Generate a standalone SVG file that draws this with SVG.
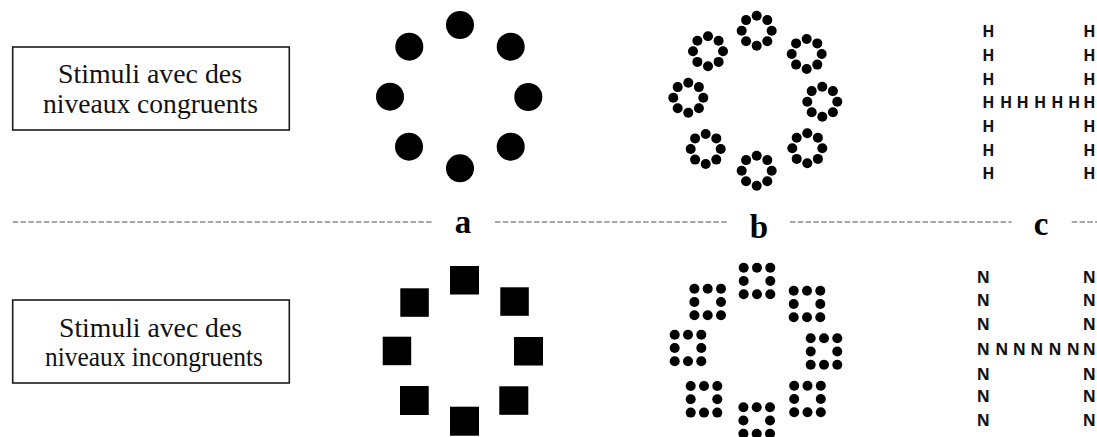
<svg xmlns="http://www.w3.org/2000/svg" xmlns:xlink="http://www.w3.org/1999/xlink" width="1097" height="437" viewBox="0 0 1097 437">
<style>
.box{fill:#fff;stroke:#1a1a1a;stroke-width:1.6}
.lbl{font-family:"Liberation Serif","Times New Roman",serif;font-size:28px;fill:#111}
.sep{stroke:#8a8a8a;stroke-width:1.4;stroke-dasharray:5.5 2.3;fill:none}
.tag{font-family:"Liberation Serif","Times New Roman",serif;font-weight:bold;font-size:33px;fill:#000;text-anchor:middle}
.let{font-family:"Open Sans","Liberation Sans",sans-serif;font-weight:bold;font-size:16px;fill:#111;text-anchor:middle}
.blk{fill:#000}
</style>
<defs>
<g id="ringc" class="blk">
<circle cx="0" cy="-15" r="5"/><circle cx="10.6" cy="-10.6" r="5"/><circle cx="15" cy="0" r="5"/><circle cx="10.6" cy="10.6" r="5"/>
<circle cx="0" cy="15" r="5"/><circle cx="-10.6" cy="10.6" r="5"/><circle cx="-15" cy="0" r="5"/><circle cx="-10.6" cy="-10.6" r="5"/>
</g>
<g id="sqc" class="blk">
<circle cx="-13.3" cy="-13.3" r="5"/><circle cx="0" cy="-13.3" r="5"/><circle cx="13.3" cy="-13.3" r="5"/>
<circle cx="-13.3" cy="0" r="5"/><circle cx="13.3" cy="0" r="5"/>
<circle cx="-13.3" cy="13.3" r="5"/><circle cx="0" cy="13.3" r="5"/><circle cx="13.3" cy="13.3" r="5"/>
</g>
</defs>
<rect width="1097" height="437" fill="#fff"/>

<g id="label-congruent">
<rect class="box" x="12.7" y="47" width="276.6" height="83"/>
<text class="lbl" x="58" y="83" textLength="184" lengthAdjust="spacingAndGlyphs">Stimuli avec des</text>
<text class="lbl" x="43" y="113" textLength="215" lengthAdjust="spacingAndGlyphs">niveaux congruents</text>
</g>

<g id="label-incongruent">
<rect class="box" x="12.7" y="300" width="276.6" height="83"/>
<text class="lbl" x="59" y="337" textLength="183" lengthAdjust="spacingAndGlyphs">Stimuli avec des</text>
<text class="lbl" x="45" y="366" textLength="218" lengthAdjust="spacingAndGlyphs">niveaux incongruents</text>
</g>

<g id="connectors">
<line class="sep" x1="12.7" y1="222" x2="433.5" y2="222"/>
<line class="sep" x1="495" y1="222" x2="728.5" y2="222"/>
<line class="sep" x1="790" y1="222" x2="1011.7" y2="222"/>
<line class="sep" x1="1071.7" y1="222" x2="1097" y2="222"/>
</g>

<g id="tag-a"><text class="tag" x="463" y="233">a</text></g>
<g id="tag-b"><text class="tag" x="759" y="238">b</text></g>
<g id="tag-c"><text class="tag" x="1041" y="235">c</text></g>

<g id="stim-a-congruent" class="blk">
<circle cx="460" cy="25" r="14"/><circle cx="409.3" cy="46.7" r="14"/><circle cx="510.7" cy="46.7" r="14"/>
<circle cx="390" cy="96.7" r="14"/><circle cx="528.3" cy="97" r="14"/>
<circle cx="409" cy="146.7" r="14"/><circle cx="510.7" cy="146.7" r="14"/><circle cx="460" cy="168.3" r="14"/>
</g>

<g id="stim-a-incongruent" class="blk">
<rect x="450" y="266" width="29" height="28.5"/><rect x="400.3" y="288.3" width="28.5" height="28.5"/><rect x="500.3" y="287.3" width="28.5" height="28.5"/>
<rect x="382.7" y="336.7" width="28.5" height="28.5"/><rect x="514" y="337" width="29" height="28.5"/>
<rect x="400" y="386" width="28.7" height="29"/><rect x="499.3" y="386.3" width="29" height="28.5"/><rect x="450" y="406.7" width="29" height="29"/>
</g>

<g id="stim-b-congruent">
<use xlink:href="#ringc" href="#ringc" x="756.7" y="30.7"/>
<use xlink:href="#ringc" href="#ringc" x="708" y="51.3"/>
<use xlink:href="#ringc" href="#ringc" x="806.7" y="54"/>
<use xlink:href="#ringc" href="#ringc" x="688.3" y="97.7"/>
<use xlink:href="#ringc" href="#ringc" x="822.3" y="101.7"/>
<use xlink:href="#ringc" href="#ringc" x="705.7" y="149"/>
<use xlink:href="#ringc" href="#ringc" x="807.3" y="148.3"/>
<use xlink:href="#ringc" href="#ringc" x="756.7" y="170.7"/>
</g>

<g id="stim-b-incongruent">
<use xlink:href="#sqc" href="#sqc" x="757" y="281"/>
<use xlink:href="#sqc" href="#sqc" x="707.7" y="302"/>
<use xlink:href="#sqc" href="#sqc" x="807" y="304"/>
<use xlink:href="#sqc" href="#sqc" x="688" y="348"/>
<use xlink:href="#sqc" href="#sqc" x="824" y="351.5"/>
<use xlink:href="#sqc" href="#sqc" x="704" y="399.3"/>
<use xlink:href="#sqc" href="#sqc" x="807.5" y="399"/>
<use xlink:href="#sqc" href="#sqc" x="756.7" y="420.5"/>
</g>

<g id="stim-c-congruent" class="let">
<text x="988.3" y="37.4">H</text><text x="1089.3" y="37.4">H</text>
<text x="988.3" y="60.7">H</text><text x="1089.3" y="60.7">H</text>
<text x="988.3" y="84.7">H</text><text x="1089.3" y="84.7">H</text>
<text x="988.3" y="108">H</text><text x="1006" y="108">H</text><text x="1022.7" y="108">H</text><text x="1040" y="108">H</text><text x="1057.3" y="108">H</text><text x="1074" y="108">H</text><text x="1089.3" y="108">H</text>
<text x="988.3" y="132.4">H</text><text x="1089.3" y="132.4">H</text>
<text x="988.3" y="155.7">H</text><text x="1089.3" y="155.7">H</text>
<text x="988.3" y="179">H</text><text x="1089.3" y="179">H</text>
</g>

<g id="stim-c-incongruent" class="let">
<text x="983.3" y="282.8">N</text><text x="1089.3" y="282.8">N</text>
<text x="983.3" y="306.2">N</text><text x="1089.3" y="306.2">N</text>
<text x="983.3" y="329.5">N</text><text x="1089.3" y="329.5">N</text>
<text x="983.3" y="354.5">N</text><text x="1001.7" y="354.5">N</text><text x="1019.3" y="354.5">N</text><text x="1036.7" y="354.5">N</text><text x="1055" y="354.5">N</text><text x="1073.3" y="354.5">N</text><text x="1089.3" y="354.5">N</text>
<text x="983.3" y="379.5">N</text><text x="1089.3" y="379.5">N</text>
<text x="983.3" y="402.2">N</text><text x="1089.3" y="402.2">N</text>
<text x="983.3" y="426.2">N</text><text x="1089.3" y="426.2">N</text>
</g>
</svg>
